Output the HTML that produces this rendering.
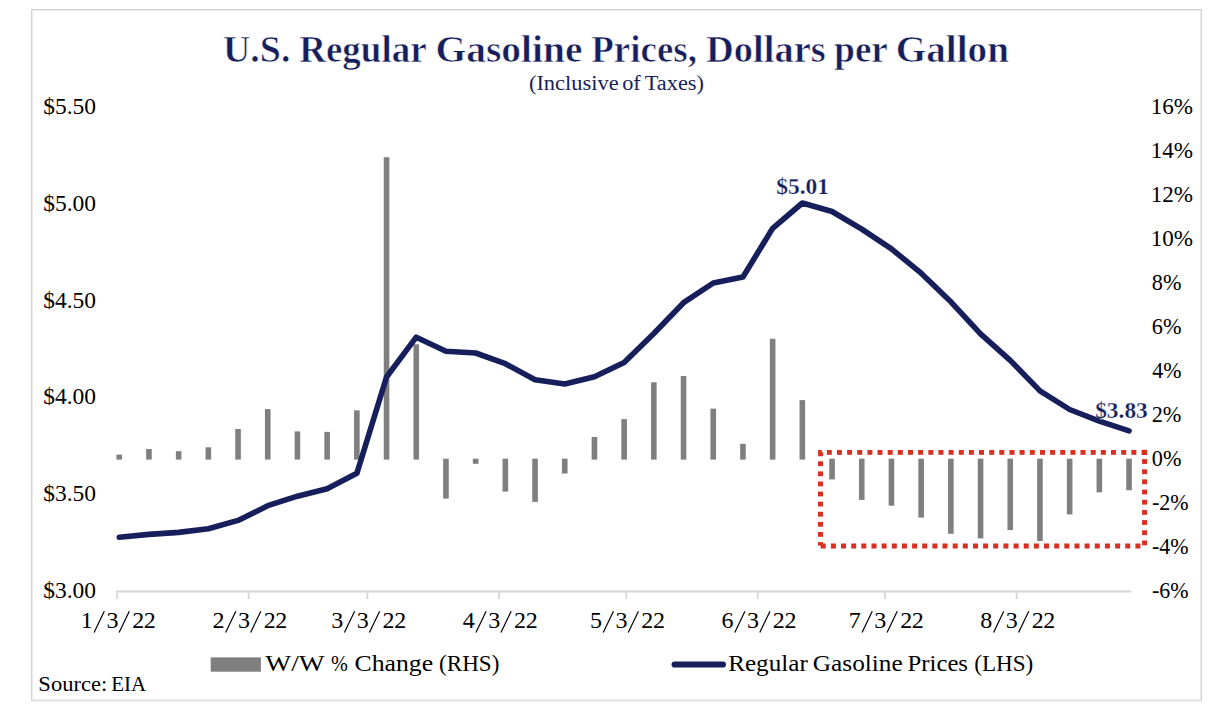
<!DOCTYPE html>
<html><head><meta charset="utf-8"><title>U.S. Regular Gasoline Prices</title>
<style>
html,body{margin:0;padding:0;background:#fff;}
body{width:1227px;height:727px;overflow:hidden;}
svg{display:block;}
text{font-family:"Liberation Serif",serif;}
</style></head><body>
<svg width="1227" height="727" viewBox="0 0 1227 727">
<rect x="0" y="0" width="1227" height="727" fill="#fff"/>
<rect x="31.5" y="9.5" width="1170" height="691.3" fill="none" stroke="#d3d3d3" stroke-width="1"/>
<rect x="32.5" y="10.5" width="1168" height="689" fill="none" stroke="#ececec" stroke-width="1"/>
<text x="222.95" y="62.30" font-size="38.5" font-weight="bold" stroke="#fff" stroke-width="0.6" fill="#161e5c" textLength="67.43" lengthAdjust="spacingAndGlyphs">U.S.</text>
<text x="299.17" y="62.30" font-size="38.5" font-weight="bold" stroke="#fff" stroke-width="0.6" fill="#161e5c" textLength="127.44" lengthAdjust="spacingAndGlyphs">Regular</text>
<text x="435.46" y="62.30" font-size="38.5" font-weight="bold" stroke="#fff" stroke-width="0.6" fill="#161e5c" textLength="147.05" lengthAdjust="spacingAndGlyphs">Gasoline</text>
<text x="591.27" y="62.30" font-size="38.5" font-weight="bold" stroke="#fff" stroke-width="0.6" fill="#161e5c" textLength="105.65" lengthAdjust="spacingAndGlyphs">Prices,</text>
<text x="706.01" y="62.30" font-size="38.5" font-weight="bold" stroke="#fff" stroke-width="0.6" fill="#161e5c" textLength="119.71" lengthAdjust="spacingAndGlyphs">Dollars</text>
<text x="834.32" y="62.30" font-size="38.5" font-weight="bold" stroke="#fff" stroke-width="0.6" fill="#161e5c" textLength="53.49" lengthAdjust="spacingAndGlyphs">per</text>
<text x="895.78" y="62.30" font-size="38.5" font-weight="bold" stroke="#fff" stroke-width="0.6" fill="#161e5c" textLength="113.23" lengthAdjust="spacingAndGlyphs">Gallon</text>
<text x="528.91" y="89.70" font-size="20.5" fill="#161e5c" textLength="89.76" lengthAdjust="spacingAndGlyphs">(Inclusive</text>
<text x="622.15" y="89.70" font-size="20.5" fill="#161e5c" textLength="18.55" lengthAdjust="spacingAndGlyphs">of</text>
<text x="644.80" y="89.70" font-size="20.5" fill="#161e5c" textLength="59.08" lengthAdjust="spacingAndGlyphs">Taxes)</text>
<text x="43.19" y="114.20" font-size="24.0" fill="#000" textLength="52.80" lengthAdjust="spacingAndGlyphs">$5.50</text>
<text x="43.19" y="210.92" font-size="24.0" fill="#000" textLength="52.80" lengthAdjust="spacingAndGlyphs">$5.00</text>
<text x="43.19" y="307.64" font-size="24.0" fill="#000" textLength="52.80" lengthAdjust="spacingAndGlyphs">$4.50</text>
<text x="43.19" y="404.36" font-size="24.0" fill="#000" textLength="52.80" lengthAdjust="spacingAndGlyphs">$4.00</text>
<text x="43.19" y="501.08" font-size="24.0" fill="#000" textLength="52.80" lengthAdjust="spacingAndGlyphs">$3.50</text>
<text x="43.19" y="597.80" font-size="24.0" fill="#000" textLength="52.80" lengthAdjust="spacingAndGlyphs">$3.00</text>
<text x="1150.67" y="114.00" font-size="23.9" fill="#000" textLength="42.32" lengthAdjust="spacingAndGlyphs">16%</text>
<text x="1150.67" y="157.96" font-size="23.9" fill="#000" textLength="42.32" lengthAdjust="spacingAndGlyphs">14%</text>
<text x="1150.67" y="201.92" font-size="23.9" fill="#000" textLength="42.32" lengthAdjust="spacingAndGlyphs">12%</text>
<text x="1150.67" y="245.88" font-size="23.9" fill="#000" textLength="42.32" lengthAdjust="spacingAndGlyphs">10%</text>
<text x="1151.86" y="289.84" font-size="23.9" fill="#000" textLength="29.60" lengthAdjust="spacingAndGlyphs">8%</text>
<text x="1151.74" y="333.80" font-size="23.9" fill="#000" textLength="29.72" lengthAdjust="spacingAndGlyphs">6%</text>
<text x="1152.26" y="377.76" font-size="23.9" fill="#000" textLength="29.18" lengthAdjust="spacingAndGlyphs">4%</text>
<text x="1151.72" y="421.72" font-size="23.9" fill="#000" textLength="29.74" lengthAdjust="spacingAndGlyphs">2%</text>
<text x="1151.86" y="465.68" font-size="23.9" fill="#000" textLength="29.60" lengthAdjust="spacingAndGlyphs">0%</text>
<text x="1151.89" y="509.64" font-size="23.9" fill="#000" textLength="36.66" lengthAdjust="spacingAndGlyphs">-2%</text>
<text x="1151.89" y="553.60" font-size="23.9" fill="#000" textLength="36.66" lengthAdjust="spacingAndGlyphs">-4%</text>
<text x="1151.89" y="597.56" font-size="23.9" fill="#000" textLength="36.66" lengthAdjust="spacingAndGlyphs">-6%</text>
<line x1="116.3" y1="591.5" x2="1131.2" y2="591.5" stroke="#d5d5d5" stroke-width="1.8"/>
<line x1="117.1" y1="591" x2="117.1" y2="599" stroke="#d5d5d5" stroke-width="1.7"/>
<line x1="94.10" y1="632.4" x2="104.30" y2="611.3" stroke="#000" stroke-width="1.2"/>
<line x1="119.10" y1="632.4" x2="129.30" y2="611.3" stroke="#000" stroke-width="1.2"/>
<text x="80.85 106.40 132.20 143.80" y="628.0" font-size="24.0" fill="#000">1322</text>
<line x1="248.6" y1="591" x2="248.6" y2="599" stroke="#d5d5d5" stroke-width="1.7"/>
<line x1="225.63" y1="632.4" x2="235.83" y2="611.3" stroke="#000" stroke-width="1.2"/>
<line x1="250.63" y1="632.4" x2="260.83" y2="611.3" stroke="#000" stroke-width="1.2"/>
<text x="212.38 237.93 263.73 275.33" y="628.0" font-size="24.0" fill="#000">2322</text>
<line x1="367.4" y1="591" x2="367.4" y2="599" stroke="#d5d5d5" stroke-width="1.7"/>
<line x1="344.43" y1="632.4" x2="354.63" y2="611.3" stroke="#000" stroke-width="1.2"/>
<line x1="369.43" y1="632.4" x2="379.63" y2="611.3" stroke="#000" stroke-width="1.2"/>
<text x="331.18 356.73 382.53 394.13" y="628.0" font-size="24.0" fill="#000">3322</text>
<line x1="499.0" y1="591" x2="499.0" y2="599" stroke="#d5d5d5" stroke-width="1.7"/>
<line x1="475.95" y1="632.4" x2="486.15" y2="611.3" stroke="#000" stroke-width="1.2"/>
<line x1="500.95" y1="632.4" x2="511.15" y2="611.3" stroke="#000" stroke-width="1.2"/>
<text x="462.70 488.25 514.05 525.65" y="628.0" font-size="24.0" fill="#000">4322</text>
<line x1="626.2" y1="591" x2="626.2" y2="599" stroke="#d5d5d5" stroke-width="1.7"/>
<line x1="603.24" y1="632.4" x2="613.44" y2="611.3" stroke="#000" stroke-width="1.2"/>
<line x1="628.24" y1="632.4" x2="638.44" y2="611.3" stroke="#000" stroke-width="1.2"/>
<text x="589.99 615.54 641.34 652.94" y="628.0" font-size="24.0" fill="#000">5322</text>
<line x1="757.8" y1="591" x2="757.8" y2="599" stroke="#d5d5d5" stroke-width="1.7"/>
<line x1="734.76" y1="632.4" x2="744.96" y2="611.3" stroke="#000" stroke-width="1.2"/>
<line x1="759.76" y1="632.4" x2="769.96" y2="611.3" stroke="#000" stroke-width="1.2"/>
<text x="721.51 747.06 772.86 784.46" y="628.0" font-size="24.0" fill="#000">6322</text>
<line x1="885.0" y1="591" x2="885.0" y2="599" stroke="#d5d5d5" stroke-width="1.7"/>
<line x1="862.05" y1="632.4" x2="872.25" y2="611.3" stroke="#000" stroke-width="1.2"/>
<line x1="887.05" y1="632.4" x2="897.25" y2="611.3" stroke="#000" stroke-width="1.2"/>
<text x="848.80 874.35 900.15 911.75" y="628.0" font-size="24.0" fill="#000">7322</text>
<line x1="1016.6" y1="591" x2="1016.6" y2="599" stroke="#d5d5d5" stroke-width="1.7"/>
<line x1="993.57" y1="632.4" x2="1003.77" y2="611.3" stroke="#000" stroke-width="1.2"/>
<line x1="1018.57" y1="632.4" x2="1028.77" y2="611.3" stroke="#000" stroke-width="1.2"/>
<text x="980.32 1005.87 1031.67 1043.27" y="628.0" font-size="24.0" fill="#000">8322</text>
<rect x="116.45" y="454.6" width="5.6" height="5.0" fill="#7f7f7f"/>
<rect x="146.15" y="449.0" width="5.6" height="10.6" fill="#7f7f7f"/>
<rect x="175.85" y="451.2" width="5.6" height="8.4" fill="#7f7f7f"/>
<rect x="205.55" y="447.3" width="5.6" height="12.3" fill="#7f7f7f"/>
<rect x="235.25" y="429.0" width="5.6" height="30.6" fill="#7f7f7f"/>
<rect x="264.95" y="409.1" width="5.6" height="50.5" fill="#7f7f7f"/>
<rect x="294.65" y="431.4" width="5.6" height="28.2" fill="#7f7f7f"/>
<rect x="324.35" y="431.9" width="5.6" height="27.7" fill="#7f7f7f"/>
<rect x="354.05" y="410.3" width="5.6" height="49.3" fill="#7f7f7f"/>
<rect x="383.75" y="157.2" width="5.6" height="302.4" fill="#7f7f7f"/>
<rect x="413.45" y="344.3" width="5.6" height="115.3" fill="#7f7f7f"/>
<rect x="443.15" y="458.7" width="5.6" height="39.9" fill="#7f7f7f"/>
<rect x="472.85" y="458.7" width="5.6" height="5.1" fill="#7f7f7f"/>
<rect x="502.55" y="458.7" width="5.6" height="32.9" fill="#7f7f7f"/>
<rect x="532.25" y="458.7" width="5.6" height="43.2" fill="#7f7f7f"/>
<rect x="561.95" y="458.7" width="5.6" height="14.8" fill="#7f7f7f"/>
<rect x="591.65" y="437.0" width="5.6" height="22.6" fill="#7f7f7f"/>
<rect x="621.35" y="419.1" width="5.6" height="40.5" fill="#7f7f7f"/>
<rect x="651.05" y="382.3" width="5.6" height="77.3" fill="#7f7f7f"/>
<rect x="680.75" y="376.0" width="5.6" height="83.6" fill="#7f7f7f"/>
<rect x="710.45" y="408.6" width="5.6" height="51.0" fill="#7f7f7f"/>
<rect x="740.15" y="443.8" width="5.6" height="15.8" fill="#7f7f7f"/>
<rect x="769.85" y="338.8" width="5.6" height="120.8" fill="#7f7f7f"/>
<rect x="799.55" y="400.1" width="5.6" height="59.5" fill="#7f7f7f"/>
<rect x="829.25" y="458.7" width="5.6" height="20.7" fill="#7f7f7f"/>
<rect x="858.95" y="458.7" width="5.6" height="41.2" fill="#7f7f7f"/>
<rect x="888.65" y="458.7" width="5.6" height="47.0" fill="#7f7f7f"/>
<rect x="918.35" y="458.7" width="5.6" height="58.9" fill="#7f7f7f"/>
<rect x="948.05" y="458.7" width="5.6" height="75.1" fill="#7f7f7f"/>
<rect x="977.75" y="458.7" width="5.6" height="79.7" fill="#7f7f7f"/>
<rect x="1007.45" y="458.7" width="5.6" height="71.4" fill="#7f7f7f"/>
<rect x="1037.15" y="458.7" width="5.6" height="82.3" fill="#7f7f7f"/>
<rect x="1066.85" y="458.7" width="5.6" height="55.7" fill="#7f7f7f"/>
<rect x="1096.55" y="458.7" width="5.6" height="33.6" fill="#7f7f7f"/>
<rect x="1126.25" y="458.7" width="5.6" height="31.5" fill="#7f7f7f"/>
<path d="M818.1,450 H821.8 V452.2 H823.1 V456.2 H818.1 Z" fill="#da2f20"/>
<rect x="826.8" y="450.0" width="5.0" height="4.8" fill="#da2f20"/>
<rect x="836.9" y="450.0" width="5.0" height="4.8" fill="#da2f20"/>
<rect x="847.1" y="450.0" width="5.0" height="4.8" fill="#da2f20"/>
<rect x="857.2" y="450.0" width="5.0" height="4.8" fill="#da2f20"/>
<rect x="867.4" y="450.0" width="5.0" height="4.8" fill="#da2f20"/>
<rect x="877.5" y="450.0" width="5.0" height="4.8" fill="#da2f20"/>
<rect x="887.7" y="450.0" width="5.0" height="4.8" fill="#da2f20"/>
<rect x="897.8" y="450.0" width="5.0" height="4.8" fill="#da2f20"/>
<rect x="908.0" y="450.0" width="5.0" height="4.8" fill="#da2f20"/>
<rect x="918.1" y="450.0" width="5.0" height="4.8" fill="#da2f20"/>
<rect x="928.3" y="450.0" width="5.0" height="4.8" fill="#da2f20"/>
<rect x="938.4" y="450.0" width="5.0" height="4.8" fill="#da2f20"/>
<rect x="948.6" y="450.0" width="5.0" height="4.8" fill="#da2f20"/>
<rect x="958.8" y="450.0" width="5.0" height="4.8" fill="#da2f20"/>
<rect x="968.9" y="450.0" width="5.0" height="4.8" fill="#da2f20"/>
<rect x="979.0" y="450.0" width="5.0" height="4.8" fill="#da2f20"/>
<rect x="989.2" y="450.0" width="5.0" height="4.8" fill="#da2f20"/>
<rect x="999.3" y="450.0" width="5.0" height="4.8" fill="#da2f20"/>
<rect x="1009.5" y="450.0" width="5.0" height="4.8" fill="#da2f20"/>
<rect x="1019.6" y="450.0" width="5.0" height="4.8" fill="#da2f20"/>
<rect x="1029.8" y="450.0" width="5.0" height="4.8" fill="#da2f20"/>
<rect x="1040.0" y="450.0" width="5.0" height="4.8" fill="#da2f20"/>
<rect x="1050.1" y="450.0" width="5.0" height="4.8" fill="#da2f20"/>
<rect x="1060.2" y="450.0" width="5.0" height="4.8" fill="#da2f20"/>
<rect x="1070.4" y="450.0" width="5.0" height="4.8" fill="#da2f20"/>
<rect x="1080.5" y="450.0" width="5.0" height="4.8" fill="#da2f20"/>
<rect x="1090.7" y="450.0" width="5.0" height="4.8" fill="#da2f20"/>
<rect x="1100.8" y="450.0" width="5.0" height="4.8" fill="#da2f20"/>
<rect x="1111.0" y="450.0" width="5.0" height="4.8" fill="#da2f20"/>
<rect x="1121.2" y="450.0" width="5.0" height="4.8" fill="#da2f20"/>
<rect x="1131.3" y="450.0" width="5.0" height="4.8" fill="#da2f20"/>
<rect x="1141.6" y="449.8" width="5.5" height="5.2" fill="#da2f20"/>
<rect x="1142.1" y="459.1" width="5.0" height="4.8" fill="#da2f20"/>
<rect x="1142.1" y="469.3" width="5.0" height="4.8" fill="#da2f20"/>
<rect x="1142.1" y="479.4" width="5.0" height="4.8" fill="#da2f20"/>
<rect x="1142.1" y="489.6" width="5.0" height="4.8" fill="#da2f20"/>
<rect x="1142.1" y="499.8" width="5.0" height="4.8" fill="#da2f20"/>
<rect x="1142.1" y="510.0" width="5.0" height="4.8" fill="#da2f20"/>
<rect x="1142.1" y="520.1" width="5.0" height="4.8" fill="#da2f20"/>
<rect x="1142.1" y="530.3" width="5.0" height="4.8" fill="#da2f20"/>
<rect x="1142.1" y="540.5" width="5.0" height="4.8" fill="#da2f20"/>
<rect x="820.7" y="543.5" width="5.0" height="5.0" fill="#da2f20"/>
<rect x="830.9" y="543.5" width="5.0" height="5.0" fill="#da2f20"/>
<rect x="841.0" y="543.5" width="5.0" height="5.0" fill="#da2f20"/>
<rect x="851.2" y="543.5" width="5.0" height="5.0" fill="#da2f20"/>
<rect x="861.3" y="543.5" width="5.0" height="5.0" fill="#da2f20"/>
<rect x="871.5" y="543.5" width="5.0" height="5.0" fill="#da2f20"/>
<rect x="881.6" y="543.5" width="5.0" height="5.0" fill="#da2f20"/>
<rect x="891.8" y="543.5" width="5.0" height="5.0" fill="#da2f20"/>
<rect x="901.9" y="543.5" width="5.0" height="5.0" fill="#da2f20"/>
<rect x="912.1" y="543.5" width="5.0" height="5.0" fill="#da2f20"/>
<rect x="922.2" y="543.5" width="5.0" height="5.0" fill="#da2f20"/>
<rect x="932.4" y="543.5" width="5.0" height="5.0" fill="#da2f20"/>
<rect x="942.5" y="543.5" width="5.0" height="5.0" fill="#da2f20"/>
<rect x="952.7" y="543.5" width="5.0" height="5.0" fill="#da2f20"/>
<rect x="962.8" y="543.5" width="5.0" height="5.0" fill="#da2f20"/>
<rect x="973.0" y="543.5" width="5.0" height="5.0" fill="#da2f20"/>
<rect x="983.1" y="543.5" width="5.0" height="5.0" fill="#da2f20"/>
<rect x="993.2" y="543.5" width="5.0" height="5.0" fill="#da2f20"/>
<rect x="1003.4" y="543.5" width="5.0" height="5.0" fill="#da2f20"/>
<rect x="1013.6" y="543.5" width="5.0" height="5.0" fill="#da2f20"/>
<rect x="1023.7" y="543.5" width="5.0" height="5.0" fill="#da2f20"/>
<rect x="1033.9" y="543.5" width="5.0" height="5.0" fill="#da2f20"/>
<rect x="1044.0" y="543.5" width="5.0" height="5.0" fill="#da2f20"/>
<rect x="1054.2" y="543.5" width="5.0" height="5.0" fill="#da2f20"/>
<rect x="1064.3" y="543.5" width="5.0" height="5.0" fill="#da2f20"/>
<rect x="1074.5" y="543.5" width="5.0" height="5.0" fill="#da2f20"/>
<rect x="1084.6" y="543.5" width="5.0" height="5.0" fill="#da2f20"/>
<rect x="1094.8" y="543.5" width="5.0" height="5.0" fill="#da2f20"/>
<rect x="1104.9" y="543.5" width="5.0" height="5.0" fill="#da2f20"/>
<rect x="1115.1" y="543.5" width="5.0" height="5.0" fill="#da2f20"/>
<rect x="1125.2" y="543.5" width="5.0" height="5.0" fill="#da2f20"/>
<rect x="1135.4" y="543.5" width="5.0" height="5.0" fill="#da2f20"/>
<rect x="818.0" y="461.3" width="5.0" height="4.8" fill="#da2f20"/>
<rect x="818.0" y="471.4" width="5.0" height="4.8" fill="#da2f20"/>
<rect x="818.0" y="481.5" width="5.0" height="4.8" fill="#da2f20"/>
<rect x="818.0" y="491.6" width="5.0" height="4.8" fill="#da2f20"/>
<rect x="818.0" y="501.7" width="5.0" height="4.8" fill="#da2f20"/>
<rect x="818.0" y="511.8" width="5.0" height="4.8" fill="#da2f20"/>
<rect x="818.0" y="521.9" width="5.0" height="4.8" fill="#da2f20"/>
<rect x="818.0" y="532.0" width="5.0" height="4.8" fill="#da2f20"/>
<rect x="818.0" y="542.1" width="5.0" height="3.5" fill="#da2f20"/>
<polyline points="119.25,537.3 148.95,534.4 178.65,532.4 208.35,528.8 238.05,520.4 267.75,505.7 297.45,496.2 327.15,488.7 356.85,473.3 386.55,377.0 416.25,337.2 445.95,351.2 475.65,353.0 505.35,363.7 535.05,379.7 564.75,384.0 594.45,376.8 624.15,362.5 653.85,333.5 683.55,302.7 713.25,283.0 742.95,277.0 772.65,228.3 802.35,203.0 832.05,211.5 861.75,229.2 891.45,248.9 921.15,273.2 950.85,301.8 980.55,333.8 1010.25,360.4 1039.95,390.9 1069.65,409.5 1099.35,421.2 1129.05,430.8" fill="none" stroke="#161e5c" stroke-width="5.6" stroke-linejoin="round" stroke-linecap="round"/>
<text x="776.25" y="194.00" font-size="24.0" font-weight="bold" stroke="#fff" stroke-width="0.25" fill="#161e5c" textLength="52.87" lengthAdjust="spacingAndGlyphs">$5.01</text>
<text x="1095.16" y="417.80" font-size="23.5" font-weight="bold" stroke="#fff" stroke-width="0.25" fill="#161e5c" textLength="52.64" lengthAdjust="spacingAndGlyphs">$3.83</text>
<rect x="210.7" y="657.4" width="50.2" height="14.3" fill="#7f7f7f"/>
<text x="265.37" y="670.80" font-size="24.0" fill="#000" textLength="59.27" lengthAdjust="spacingAndGlyphs">W/W</text>
<text x="330.91" y="670.80" font-size="24.0" fill="#000" textLength="16.88" lengthAdjust="spacingAndGlyphs">%</text>
<text x="354.55" y="670.80" font-size="24.0" fill="#000" textLength="78.55" lengthAdjust="spacingAndGlyphs">Change</text>
<text x="439.09" y="670.80" font-size="24.0" fill="#000" textLength="60.24" lengthAdjust="spacingAndGlyphs">(RHS)</text>
<line x1="674.6" y1="664.5" x2="722.9" y2="664.5" stroke="#161e5c" stroke-width="6.2" stroke-linecap="round"/>
<text x="728.17" y="670.60" font-size="24.0" fill="#000" textLength="79.64" lengthAdjust="spacingAndGlyphs">Regular</text>
<text x="812.86" y="670.60" font-size="24.0" fill="#000" textLength="89.81" lengthAdjust="spacingAndGlyphs">Gasoline</text>
<text x="907.58" y="670.60" font-size="24.0" fill="#000" textLength="60.40" lengthAdjust="spacingAndGlyphs">Prices</text>
<text x="974.18" y="670.60" font-size="24.0" fill="#000" textLength="59.14" lengthAdjust="spacingAndGlyphs">(LHS)</text>
<text x="38.39" y="691.00" font-size="21.5" fill="#000" textLength="68.83" lengthAdjust="spacingAndGlyphs">Source:</text>
<text x="111.19" y="691.00" font-size="21.5" fill="#000" textLength="34.96" lengthAdjust="spacingAndGlyphs">EIA</text>
</svg>
</body></html>
